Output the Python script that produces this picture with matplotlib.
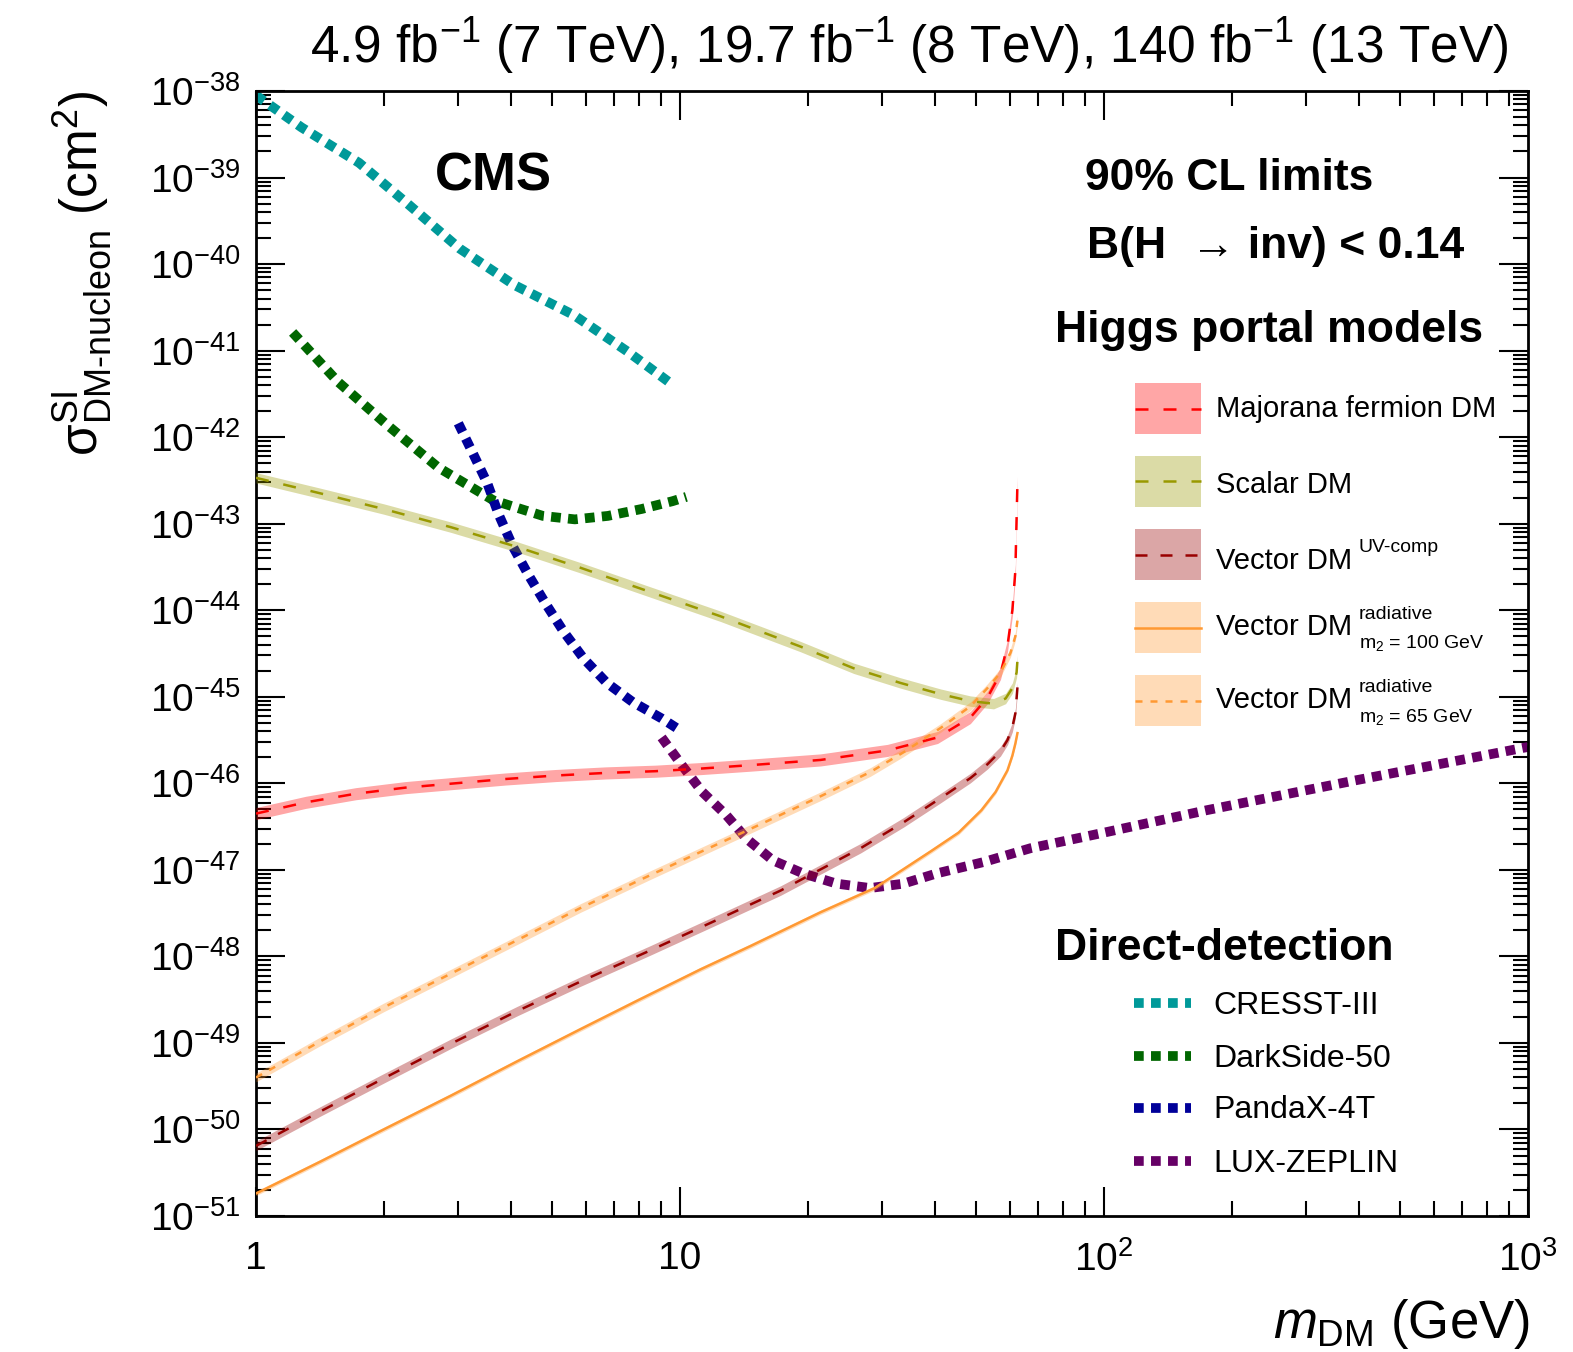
import numpy as np
import matplotlib
matplotlib.use('Agg')
import matplotlib.pyplot as plt
from matplotlib.ticker import FixedLocator, FixedFormatter, LogLocator, NullFormatter
from matplotlib.patches import Rectangle

plt.rcParams['font.family'] = ['Liberation Sans', 'DejaVu Sans']
plt.rcParams['mathtext.fontset'] = 'custom'
plt.rcParams['mathtext.rm'] = 'Liberation Sans'
plt.rcParams['mathtext.it'] = 'Liberation Sans:italic'
plt.rcParams['mathtext.bf'] = 'Liberation Sans:bold'
plt.rcParams['axes.linewidth'] = 2.0

# ---- direct-detection limits: m_DM (GeV) and log10(sigma / cm^2) ----
cresst_m = [1.0, 1.28, 1.75, 2.30, 3.02, 4.06, 5.62, 7.57, 9.40]
cresst_ls = [-38.05, -38.42, -38.83, -39.32, -39.82, -40.24, -40.59, -41.02, -41.36]

darkside_m = [1.22, 1.56, 2.04, 2.69, 3.63, 4.75, 5.65, 6.76, 8.12, 9.60, 10.35]
darkside_ls = [-40.79, -41.36, -41.86, -42.35, -42.73, -42.91, -42.95, -42.91, -42.83, -42.74, -42.69]

pandax_m = [3.00, 3.25, 3.51, 3.74, 4.04, 4.40, 4.83, 5.32, 5.93, 6.72, 7.73, 9.05, 9.81]
pandax_ls = [-41.84, -42.19, -42.53, -42.90, -43.27, -43.60, -43.93, -44.25, -44.56, -44.84, -45.06, -45.25, -45.36]

lz_m = [9.05, 10.1, 11.29, 12.87, 14.35, 16.55, 19.48, 23.44, 28.07, 33.6, 40.4, 52.0, 67.1,
        100, 175, 388, 1000]
lz_ls = [-45.47, -45.79, -46.10, -46.37, -46.64, -46.89, -47.04, -47.16, -47.21, -47.16, -47.04,
         -46.91, -46.75, -46.57, -46.31, -45.97, -45.58]

# ---- Higgs portal interpretations (central value + band half width in decades) ----
maj_m = [1.0, 1.31, 1.72, 2.25, 2.95, 3.88, 5.09, 6.67, 8.75, 11.18, 14.67, 21.45, 30.86, 40.5,
         48.4, 53.1, 57.0, 59.2, 60.8, 61.8, 62.5]
maj_ls = [-46.35, -46.22, -46.12, -46.05, -46.00, -45.95, -45.91, -45.88, -45.86, -45.83, -45.79,
          -45.73, -45.62, -45.47, -45.24, -45.01, -44.73, -44.41, -44.00, -43.54, -42.52]
maj_w = 0.07

scalar_m = [1.0, 1.42, 2.0, 2.88, 4.14, 5.83, 8.52, 12.46, 19.24, 25.66, 33.1, 41.2, 48.4, 54.9,
            58.6, 60.8, 62.2, 62.5]
scalar_ls = [-42.47, -42.65, -42.83, -43.04, -43.27, -43.51, -43.79, -44.07, -44.42, -44.67,
             -44.84, -44.97, -45.05, -45.08, -45.02, -44.90, -44.72, -44.58]
scalar_w = 0.06

uv_m = [1.0, 1.42, 2.0, 2.88, 4.14, 5.83, 8.52, 12.46, 17.26, 26.66, 33.7, 41.2, 48.4, 53.1, 57.0,
        59.2, 60.8, 61.8, 62.5]
uv_ls = [-50.19, -49.79, -49.41, -49.01, -48.63, -48.29, -47.93, -47.56, -47.24, -46.75, -46.45,
         -46.17, -45.94, -45.78, -45.63, -45.50, -45.35, -45.19, -44.89]
uv_w = 0.055

rad100_m = [1.0, 1.42, 2.0, 2.88, 4.14, 5.83, 7.94, 11.18, 14.67, 21.45, 28.8, 39.2, 45.4, 51.4,
            55.5, 59.2, 60.8, 61.8, 62.5]
rad100_ls = [-50.74, -50.37, -50.00, -49.61, -49.21, -48.84, -48.51, -48.15, -47.88, -47.49,
             -47.21, -46.78, -46.57, -46.31, -46.10, -45.85, -45.68, -45.54, -45.42]
rad100_w = 0.025

rad65_m = [1.0, 1.42, 2.0, 2.88, 4.14, 5.83, 8.52, 14.04, 21.45, 28.1, 33.7, 41.2, 48.4, 53.1,
           57.0, 60.2, 61.8, 62.5]
rad65_ls = [-49.40, -48.98, -48.59, -48.20, -47.81, -47.44, -47.06, -46.57, -46.15, -45.87,
            -45.64, -45.36, -45.11, -44.90, -44.72, -44.49, -44.30, -44.12]
rad65_w = 0.05

x_ticks = [1, 10, 100, 1000]
x_ticklabels = ['1', '10', r'$10^{2}$', r'$10^{3}$']
y_exps = list(range(-51, -37))

dd_lines = [
    ('CRESST-III', cresst_m, cresst_ls, '#009999'),
    ('DarkSide-50', darkside_m, darkside_ls, '#006600'),
    ('PandaX-4T', pandax_m, pandax_ls, '#000099'),
    ('LUX-ZEPLIN', lz_m, lz_ls, '#660066'),
]

hp_lines = [
    (maj_m, maj_ls, maj_w, '#ff0000', (5.2, 6.0)),
    (scalar_m, scalar_ls, scalar_w, '#999900', (5.2, 6.0)),
    (uv_m, uv_ls, uv_w, '#990000', (4.8, 5.2)),
    (rad100_m, rad100_ls, rad100_w, '#ff9933', None),
    (rad65_m, rad65_ls, rad65_w, '#ff9933', (2.8, 3.2)),
]

DD_LW = 7
DD_DASH = (1, 0.75)
HP_LW = 1.8
BAND_ALPHA = 0.35

fig = plt.figure(figsize=(15.73, 13.52), dpi=100)
ax = fig.add_axes([0.16275, 0.10059, 0.80864, 0.83210])
ax.set_xscale('log')
ax.set_yscale('log')

for name, m, ls, c in dd_lines:
    ax.plot(m, 10.0 ** np.array(ls), color=c, lw=DD_LW, dashes=DD_DASH,
            dash_capstyle='butt', zorder=2)

for m, ls, w, c, dash in hp_lines:
    ls = np.array(ls)
    ax.fill_between(m, 10.0 ** (ls - w), 10.0 ** (ls + w), color=c, alpha=BAND_ALPHA,
                    lw=0, zorder=3)
    kw = dict(color=c, lw=HP_LW, zorder=4)
    if dash is not None:
        kw.update(dashes=dash, dash_capstyle='butt')
    ax.plot(m, 10.0 ** ls, **kw)

ax.set_xlim(1, 1000)
ax.set_ylim(1e-51, 1e-38)

ax.xaxis.set_major_locator(FixedLocator(x_ticks))
ax.xaxis.set_major_formatter(FixedFormatter(x_ticklabels))
ax.xaxis.set_minor_locator(LogLocator(base=10, subs=np.arange(2, 10), numticks=50))
ax.xaxis.set_minor_formatter(NullFormatter())
ax.yaxis.set_major_locator(FixedLocator([10.0 ** e for e in y_exps]))
ax.yaxis.set_major_formatter(FixedFormatter([r'$10^{%d}$' % e for e in y_exps]))
ax.yaxis.set_minor_locator(LogLocator(base=10, subs=np.arange(2, 10), numticks=200))
ax.yaxis.set_minor_formatter(NullFormatter())

ax.tick_params(which='both', direction='in', top=True, right=True, width=1.5)
ax.tick_params(which='major', length=21)
ax.tick_params(which='minor', length=10.5)
ax.tick_params(axis='y', which='major', labelsize=28, pad=11)
ax.tick_params(axis='x', which='major', labelsize=28, pad=18)

# axis titles
fig.text(0.0525, 0.933, r'$\mathrm{\sigma}^{\text{SI}}_{\text{DM-nucleon}}$ (cm$^{2}$)',
         rotation=90, ha='center', va='top', fontsize=37)
fig.text(0.9726, 0.0104, r'$m_{\text{DM}}$ (GeV)', ha='right', va='baseline', fontsize=38)

fig.text(0.9587, 0.9534,
         r'4.9 fb$^{-1}$ (7 TeV), 19.7 fb$^{-1}$ (8 TeV), 140 fb$^{-1}$ (13 TeV)',
         ha='right', va='baseline', fontsize=37)

ax.text(0.1407, 0.912, 'CMS', fontweight='bold', fontsize=38, transform=ax.transAxes)
ax.text(0.6518, 0.912, '90% CL limits', fontweight='bold', fontsize=32, transform=ax.transAxes)
ax.text(0.6533, 0.8516, 'B(H  → inv) < 0.14', fontweight='bold', fontsize=32,
        transform=ax.transAxes)
ax.text(0.6282, 0.7769, 'Higgs portal models', fontweight='bold', fontsize=32,
        transform=ax.transAxes)
ax.text(0.6282, 0.2276, 'Direct-detection', fontweight='bold', fontsize=32,
        transform=ax.transAxes)

# Higgs portal legend
box_x0, box_x1, box_h = 0.6910, 0.7429, 0.0453
hp_leg_y = [0.7176, 0.6529, 0.5876, 0.5229, 0.4578]
hp_leg_base = [0.7100, 0.6424, 0.5748, 0.5164, 0.4513]
hp_leg_text = ['Majorana fermion DM', 'Scalar DM', 'Vector DM', 'Vector DM', 'Vector DM']
for i, (m, ls, w, c, dash) in enumerate(hp_lines):
    yc = hp_leg_y[i]
    ax.add_patch(Rectangle((box_x0, yc - box_h / 2), box_x1 - box_x0, box_h,
                           transform=ax.transAxes, color=c, alpha=BAND_ALPHA, lw=0,
                           clip_on=False))
    kw = dict(color=c, lw=HP_LW, transform=ax.transAxes, clip_on=False)
    if dash is not None:
        kw.update(dashes=dash, dash_capstyle='butt')
    ax.plot([box_x0, box_x1], [yc, yc], **kw)
    ax.text(0.7547, hp_leg_base[i], hp_leg_text[i], fontsize=21, transform=ax.transAxes)

sup_x = 0.8671
ax.text(sup_x, 0.5905, 'UV-comp', fontsize=14, transform=ax.transAxes)
ax.text(sup_x, 0.5304, 'radiative', fontsize=14, transform=ax.transAxes)
ax.text(sup_x, 0.5046, r'm$_{2}$ = 100 GeV', fontsize=14, transform=ax.transAxes)
ax.text(sup_x, 0.4660, 'radiative', fontsize=14, transform=ax.transAxes)
ax.text(sup_x, 0.4394, r'm$_{2}$ = 65 GeV', fontsize=14, transform=ax.transAxes)

# direct-detection legend
dd_leg_y = [0.1893, 0.1422, 0.0960, 0.0489]
dd_leg_base = [0.1796, 0.1327, 0.0868, 0.0394]
for i, (name, m, ls, c) in enumerate(dd_lines):
    ax.plot([0.6899, 0.7347], [dd_leg_y[i], dd_leg_y[i]], color=c, lw=DD_LW, dashes=DD_DASH,
            dash_capstyle='butt', transform=ax.transAxes, clip_on=False)
    ax.text(0.7524, dd_leg_base[i], name, fontsize=23, transform=ax.transAxes)

fig.savefig('out.png', dpi=100)
